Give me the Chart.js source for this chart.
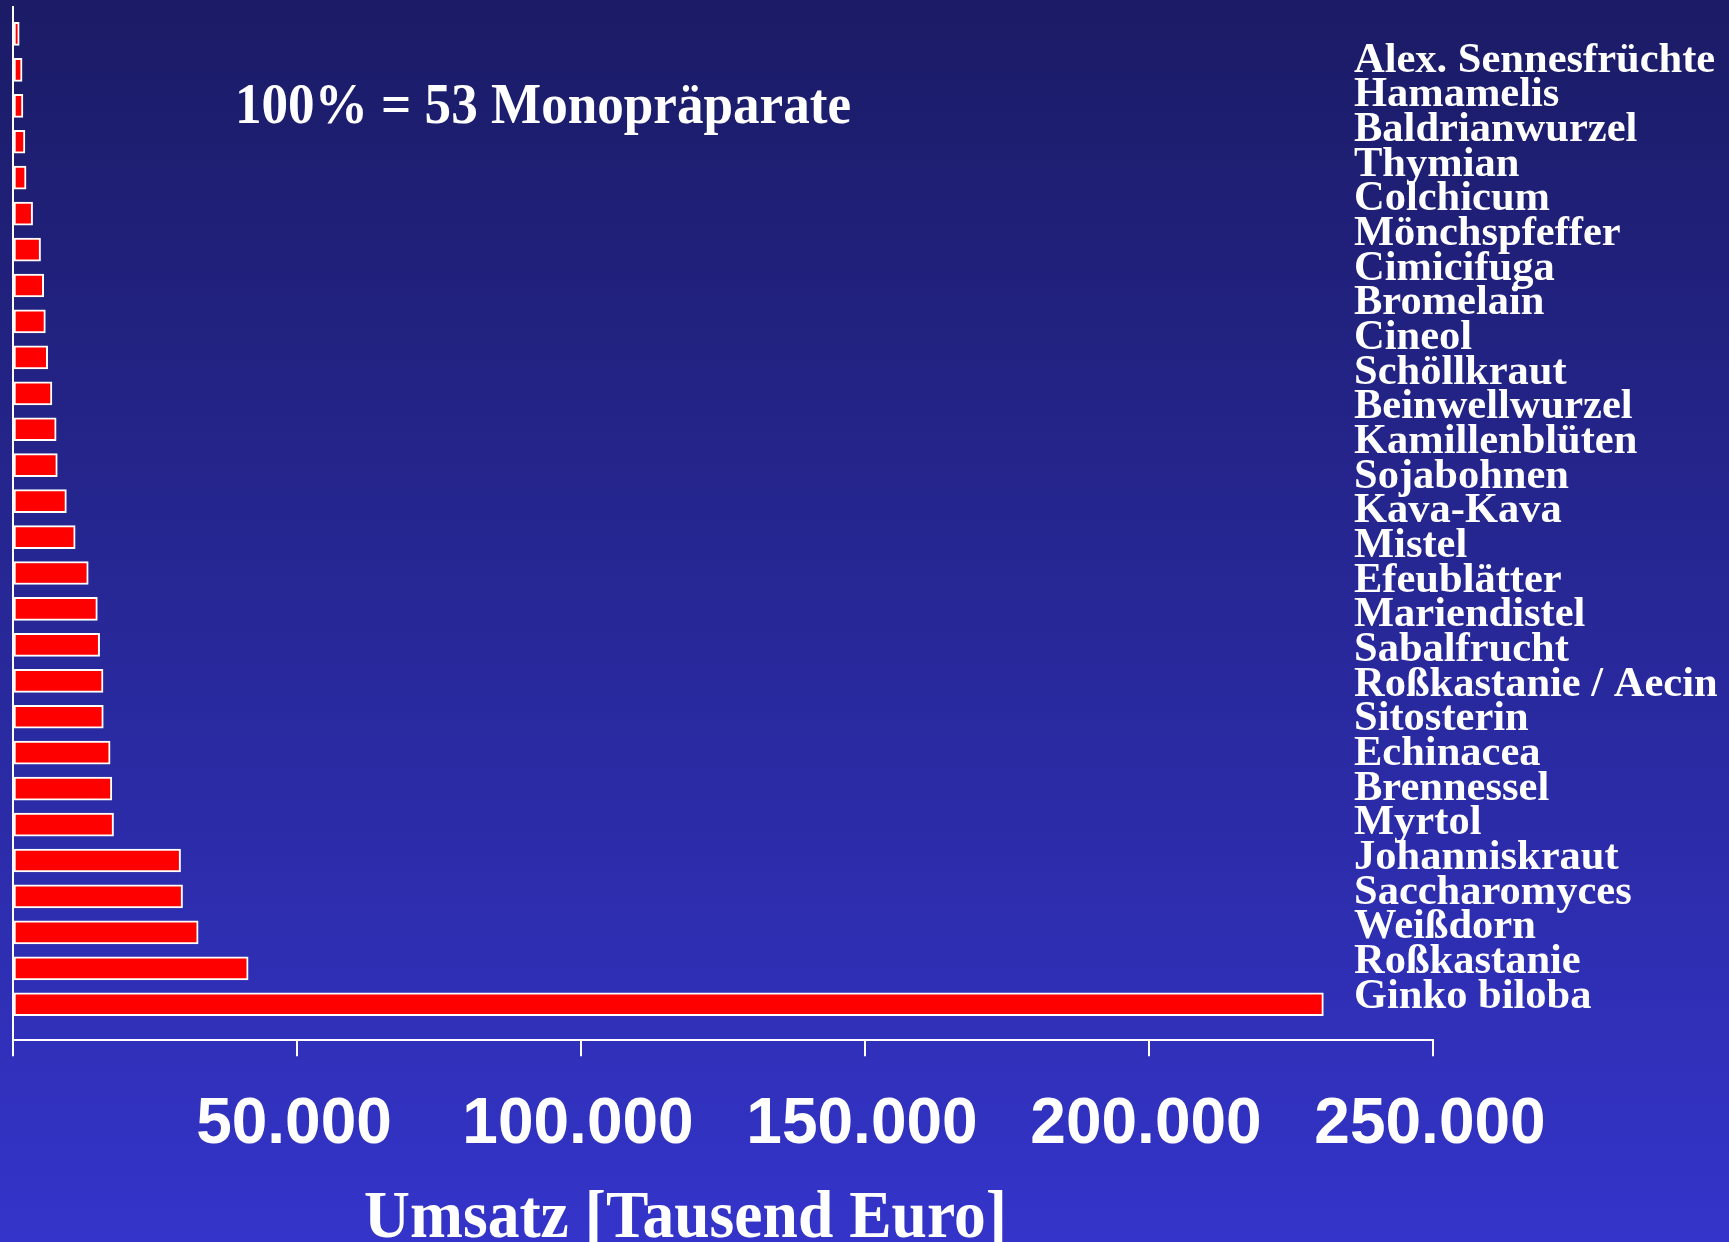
<!DOCTYPE html>
<html>
<head>
<meta charset="utf-8">
<script src="https://cdn.jsdelivr.net/npm/chart.js@4/dist/chart.umd.min.js"></script>
<style>
  html, body { margin: 0; padding: 0; background: #2a2a9a; }
  #wrap { width: 1729px; height: 1242px; }
</style>
</head>
<body>
<div id="wrap"><canvas id="c" width="1729" height="1242"></canvas></div>
<script>
// Categories, top to bottom
const categories = [
  "Alex. Sennesfrüchte", "Hamamelis", "Baldrianwurzel", "Thymian", "Colchicum",
  "Mönchspfeffer", "Cimicifuga", "Bromelain", "Cineol", "Schöllkraut",
  "Beinwellwurzel", "Kamillenblüten", "Sojabohnen", "Kava-Kava", "Mistel",
  "Efeublätter", "Mariendistel", "Sabalfrucht", "Roßkastanie / Aecin", "Sitosterin",
  "Echinacea", "Brennessel", "Myrtol", "Johanniskraut", "Saccharomyces",
  "Weißdorn", "Roßkastanie", "Ginko biloba"
];
// Umsatz [Tausend Euro]
const umsatz = [
  1100, 1600, 1750, 2100, 2300,
  3450, 4850, 5400, 5700, 6100,
  6850, 7600, 7800, 9400, 10950,
  13250, 14850, 15250, 15850, 15900,
  17100, 17400, 17700, 29500, 29850,
  32600, 41400, 230700
];
const xTicks = [0, 50000, 100000, 150000, 200000, 250000];
const annotationText = "100% = 53 Monopräparate";
const axisTitle = "Umsatz [Tausend Euro]";

const points = umsatz.map((v, i) => ({ x: v, y: i }));

const bgPlugin = {
  id: 'bg',
  beforeDraw(chart) {
    const { ctx, width, height } = chart;
    const g = ctx.createLinearGradient(0, 0, 0, height);
    g.addColorStop(0, '#1b1b66');
    g.addColorStop(1, '#3434ca');
    ctx.save();
    ctx.fillStyle = g;
    ctx.fillRect(0, 0, width, height);
    ctx.restore();
  }
};

function drawCondensed(ctx, text, left, baseline, font, targetWidth) {
  ctx.save();
  ctx.font = font;
  const w = ctx.measureText(text).width;
  const sx = targetWidth / w;
  ctx.translate(left, baseline);
  ctx.scale(sx, 1);
  ctx.textBaseline = 'alphabetic';
  ctx.textAlign = 'left';
  ctx.fillText(text, 0, 0);
  ctx.restore();
}

const textPlugin = {
  id: 'texts',
  afterDraw(chart) {
    const { ctx, scales } = chart;
    const y = scales.y, x = scales.x;
    ctx.save();
    ctx.fillStyle = '#ffffff';
    // category names on the right
    ctx.font = 'bold 42.5px "Liberation Serif", "Times New Roman", serif';
    ctx.textAlign = 'left';
    ctx.textBaseline = 'alphabetic';
    const n = categories.length;
    const first = y.getPixelForValue(0) + 37.7;
    const last = y.getPixelForValue(n - 1) + 3.5;
    const step = (last - first) / (n - 1);
    const lx = x.getPixelForValue(200000) + 205;
    categories.forEach((c, i) => ctx.fillText(c, lx, first + i * step));
    // annotation
    drawCondensed(ctx, annotationText, 235, 123,
      'bold 58px "Liberation Serif", "Times New Roman", serif', 616);
    // axis title
    drawCondensed(ctx, axisTitle, 364, 1237,
      'bold 68px "Liberation Serif", "Times New Roman", serif', 643);
    ctx.restore();
  }
};

new Chart(document.getElementById('c'), {
  type: 'bar',
  data: {
    datasets: [{
      data: points,
      backgroundColor: '#ff0000',
      borderColor: '#ffffff',
      borderWidth: 2,
      borderSkipped: false,
      barThickness: 23
    }]
  },
  options: {
    indexAxis: 'y',
    responsive: false,
    animation: false,
    devicePixelRatio: 1,
    layout: { padding: { left: 13, top: 7, right: 296, bottom: 47 } },
    plugins: { legend: { display: false }, tooltip: { enabled: false } },
    scales: {
      x: {
        type: 'linear',
        min: 0,
        max: 250000,
        afterBuildTicks(scale) { scale.ticks = xTicks.map(v => ({ value: v })); },
        afterFit(scale) { scale.paddingLeft = 0; },
        ticks: {
          color: '#ffffff',
          font: { family: '"Liberation Sans", Arial, sans-serif', size: 64, weight: 'bold' },
          padding: 31,
          labelOffset: -3,
          maxRotation: 0,
          autoSkip: false,
          callback: (v) => v === 0 ? '' : (v / 1000) + '.000'
        },
        grid: { display: true, drawOnChartArea: false, drawTicks: true, tickLength: 16, color: '#ffffff', lineWidth: 2 },
        border: { display: true, color: '#ffffff', width: 2 }
      },
      y: {
        type: 'linear',
        reverse: true,
        offset: false,
        bounds: 'data',
        min: -0.75,
        max: 28,
        afterBuildTicks(scale) { scale.ticks = [{ value: -0.75 }, { value: 28 }]; },
        afterFit(scale) { scale.width = 0; },
        ticks: { display: false },
        grid: { display: true, offset: false, drawOnChartArea: false, drawTicks: false },
        border: { display: true, color: '#ffffff', width: 2 }
      }
    }
  },
  plugins: [bgPlugin, textPlugin]
});
</script>
</body>
</html>
